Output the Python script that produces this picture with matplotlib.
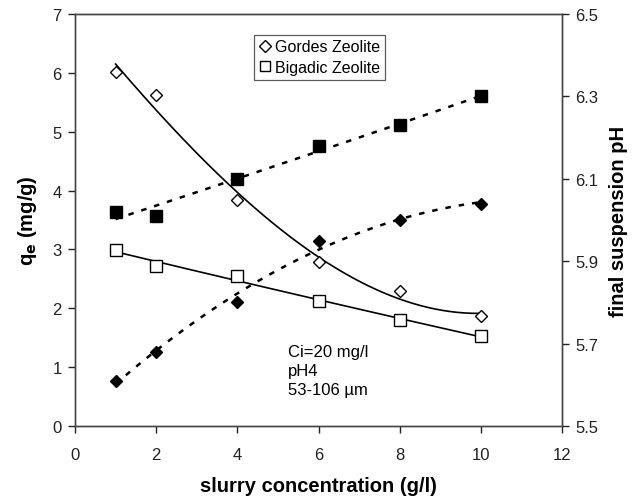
import numpy as np
import matplotlib
matplotlib.use("Agg")
import matplotlib.pyplot as plt

plt.rcParams['font.family'] = ['Liberation Sans', 'DejaVu Sans']

x = [1, 2, 4, 6, 8, 10]
gordes_qe = [6.01, 5.63, 3.84, 2.79, 2.29, 1.87]
bigadic_qe = [2.99, 2.72, 2.55, 2.12, 1.80, 1.53]
bigadic_ph = [6.02, 6.01, 6.10, 6.18, 6.23, 6.30]
gordes_ph = [5.61, 5.68, 5.80, 5.95, 6.00, 6.04]

fig = plt.figure(figsize=(6.32, 5.02), dpi=100)
ax = fig.add_axes([0.1187, 0.1494, 0.7706, 0.8206])
ax2 = ax.twinx()

xs = np.linspace(1, 10, 200)
lw_fit = 1.2
dash = (0, (2.2, 3.2))

# fits
ax.plot(xs, np.polyval(np.polyfit(x, gordes_qe, 3), xs), color='black', lw=lw_fit)
ax.plot(xs, np.polyval(np.polyfit(x, bigadic_qe, 2), xs), color='black', lw=lw_fit)
ax2.plot(xs, np.polyval(np.polyfit(x, bigadic_ph, 2), xs), color='black', lw=1.8, linestyle=dash)
ax2.plot(xs, np.polyval(np.polyfit(x, gordes_ph, 2), xs), color='black', lw=1.8, linestyle=dash)

# markers
ax.plot(x, gordes_qe, linestyle='none', marker='D', ms=6.5, mfc='white', mec='black', mew=1.0,
        label='Gordes Zeolite', zorder=5)
ax.plot(x, bigadic_qe, linestyle='none', marker='s', ms=8.5, mfc='white', mec='black', mew=1.0,
        label='Bigadic Zeolite', zorder=5)
ax2.plot(x, bigadic_ph, linestyle='none', marker='s', ms=8.5, mfc='black', mec='black', zorder=5)
ax2.plot(x, gordes_ph, linestyle='none', marker='D', ms=6.5, mfc='black', mec='black', zorder=5)

ax.set_xlim(0, 12)
ax.set_ylim(0, 7)
ax2.set_ylim(5.5, 6.5)
ax.set_xticks(range(0, 13, 2))
ax.set_yticks(range(0, 8))
ax2.set_yticks([5.5, 5.7, 5.9, 6.1, 6.3, 6.5])
ax2.set_yticklabels(['5.5', '5.7', '5.9', '6.1', '6.3', '6.5'])

for a in (ax, ax2):
    a.tick_params(direction='out', length=5, width=1.0, labelsize=12, colors='#222222', pad=4.5)
    for s in a.spines.values():
        s.set_color('#444444')
        s.set_linewidth(1.0)
ax.tick_params(axis='x', pad=10)

ax.set_xlabel('slurry concentration (g/l)', fontsize=14.5, fontweight='bold', labelpad=10)
ax.set_ylabel(r'q$_\mathbf{e}$ (mg/g)', fontsize=14.5, fontweight='bold', labelpad=10)
ax2.set_ylabel('final suspension pH', fontsize=14.5, fontweight='bold', labelpad=8)

leg = ax.legend(loc='upper left', bbox_to_anchor=(0.368, 0.95), fontsize=11.5, frameon=True,
                fancybox=False, edgecolor='#333333', handlelength=0.8, handletextpad=0.2,
                borderpad=0.3, labelspacing=0.35, borderaxespad=0, markerscale=0.9)
leg.get_frame().set_linewidth(0.9)

ax.text(5.25, 0.5, 'Ci=20 mg/l\npH4\n53-106 \u00b5m', fontsize=12, va='bottom', ha='left',
        linespacing=1.3)

fig.savefig('out.png', dpi=100)
